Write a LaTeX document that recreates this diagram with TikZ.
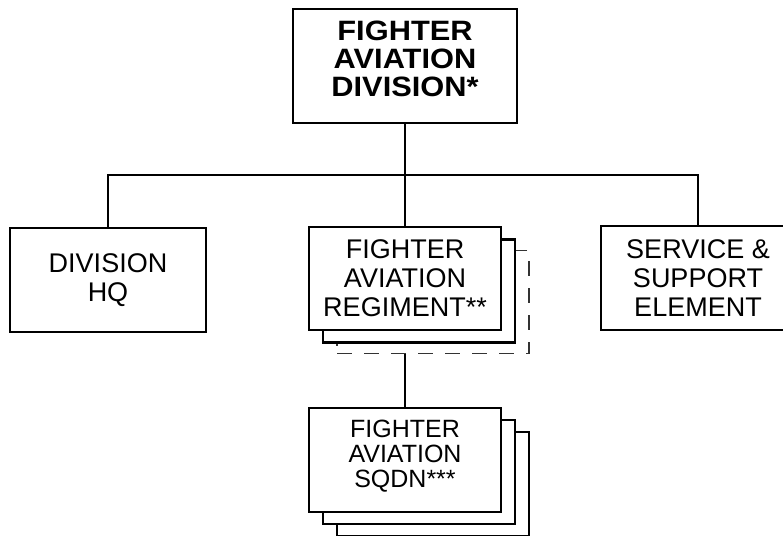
\documentclass[tikz,border=0pt]{standalone}
\usepackage{fontspec}
\setmainfont{Liberation Sans}
\newfontfamily\headfont{Liberation Sans}[FakeStretch=1.1]

\begin{document}
\begin{tikzpicture}[x=1pt,y=-1pt,line join=miter,
  orgbox/.style={draw,line width=2.6pt,fill=white,align=center,inner sep=0pt,
    font=\fontsize{27}{29}\selectfont},
  unit/.style 2 args={orgbox,minimum width=#1,minimum height=#2},
  ghost/.style={draw=black!80,line width=1.3pt,dash pattern=on 15pt off 12pt},
  link/.style={line width=2.6pt}]
  \useasboundingbox (0,0) rectangle (783,535);
  % division level
  \node[unit={224pt}{114pt},text depth=14pt,font=\headfont\bfseries\fontsize{28}{28}\selectfont] (fad) at (405,66)
    {FIGHTER\\AVIATION\\DIVISION*};
  \node[unit={196pt}{104pt}] (hq) at (108,280) {DIVISION\\HQ};
  \node[unit={194pt}{104pt}] (sse) at (698,278) {SERVICE \&\\SUPPORT\\ELEMENT};
  % regiment stack
  \node[unit={192pt}{103pt},ghost] (reg3) at (433,302) {};
  \node[unit={192pt}{103pt}] (reg2) at (419,291) {};
  \node[unit={192pt}{103pt}] (reg) at (405,278.5) {FIGHTER\\AVIATION\\REGIMENT**};
  % squadron stack
  \node[unit={192pt}{104pt}] (sq3) at (433,484) {};
  \node[unit={192pt}{104pt}] (sq2) at (419,472) {};
  \node[unit={192pt}{104pt},text depth=12pt,font=\fontsize{25}{25}\selectfont] (sq) at (405,460)
    {FIGHTER\\AVIATION\\SQDN***};
  % connectors
  \coordinate (bus) at (405,175);
  \draw[link] (fad.south) -- (bus);
  \draw[link] (hq.north) |- (bus) -| (sse.north);
  \draw[link] (bus) -- (reg.north);
  \draw[link] (reg3.south -| reg.south) -- (sq.north);
\end{tikzpicture}
\end{document}
